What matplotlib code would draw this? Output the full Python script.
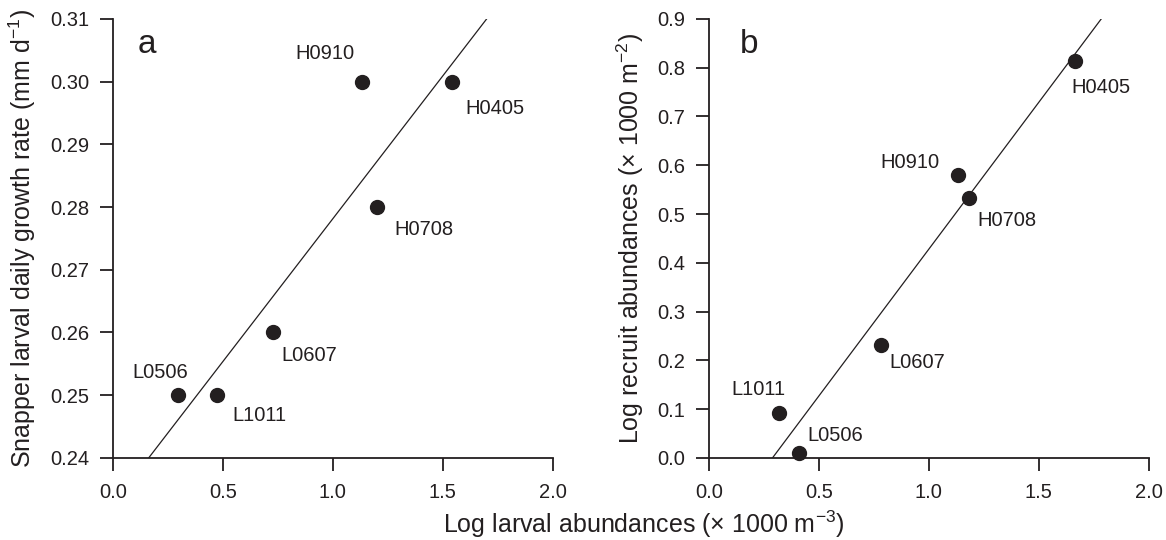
import matplotlib
matplotlib.use("Agg")
import matplotlib.pyplot as plt
import numpy as np

plt.rcParams['font.family'] = ['Liberation Sans', 'DejaVu Sans']
plt.rcParams['mathtext.fontset'] = 'custom'
plt.rcParams['mathtext.rm'] = 'Liberation Sans'
plt.rcParams['mathtext.default'] = 'regular'

INK = '#231f20'

# panel a: larval abundance vs daily growth rate
names_a = ["L0506", "L1011", "L0607", "H0910", "H0708", "H0405"]
x_a = [0.294, 0.471, 0.728, 1.132, 1.202, 1.541]
y_a = [0.250, 0.250, 0.260, 0.300, 0.280, 0.300]
# label offsets in pixels (dx, dy)
off_a = [(-17, 23), (43, -20), (36, -23), (-37, 28), (47, -22), (43, -27)]

# panel b: larval abundance vs recruit abundance
names_b = ["L1011", "L0506", "L0607", "H0910", "H0708", "H0405"]
x_b = [0.319, 0.412, 0.782, 1.133, 1.181, 1.664]
y_b = [0.092, 0.011, 0.232, 0.580, 0.532, 0.813]
off_b = [(-21, 24), (36, 17), (36, -18), (-48, 12), (38, -22), (26, -26)]

fig = plt.figure(figsize=(11.66, 5.4), dpi=100)
ax1 = fig.add_axes([0.0969, 0.152, 0.377, 0.813])
ax2 = fig.add_axes([0.608, 0.152, 0.377, 0.813])


def panel(ax, xs, ys, names, offs, ylim, yticks, yfmt, ylabel, ylab_x,
          letter, letter_x):
    k, b = np.polyfit(xs, ys, 1)
    xx = np.array([-0.5, 2.5])
    ax.plot(xx, k * xx + b, color=INK, lw=0.9)
    ax.plot(xs, ys, 'o', color=INK, ms=10, clip_on=False, zorder=3)
    for n, x, y, o in zip(names, xs, ys, offs):
        ax.annotate(n, (x, y), xytext=o, textcoords='offset pixels',
                    ha='center', va='center', fontsize=14.5, color=INK)
    ax.set_xlim(0, 2.0)
    ax.set_ylim(*ylim)
    ax.set_xticks([0.0, 0.5, 1.0, 1.5, 2.0])
    ax.set_xticklabels(["0.0", "0.5", "1.0", "1.5", "2.0"])
    ax.set_yticks(yticks)
    ax.set_yticklabels([yfmt % v for v in yticks])
    for s in ['top', 'right']:
        ax.spines[s].set_visible(False)
    for s in ['left', 'bottom']:
        ax.spines[s].set_linewidth(1.3)
        ax.spines[s].set_color(INK)
    ax.tick_params(direction='out', length=9.2, width=1.3, color=INK,
                   labelsize=14.5, labelcolor=INK)
    ax.tick_params(axis='x', pad=9)
    ax.tick_params(axis='y', pad=8)
    ax.text(ylab_x, 0.5, ylabel, transform=ax.transAxes, rotation=90,
            ha='center', va='center', fontsize=18, color=INK)
    ax.text(letter_x, 0.9226, letter, transform=ax.transAxes, fontsize=24,
            ha='left', va='baseline', color=INK)


panel(ax1, x_a, y_a, names_a, off_a, (0.24, 0.31),
      [0.24, 0.25, 0.26, 0.27, 0.28, 0.29, 0.30, 0.31], "%.2f",
      "Snapper larval daily growth rate (mm d$^{\u22121}$)", -0.207,
      "a", 0.057)
panel(ax2, x_b, y_b, names_b, off_b, (0.0, 0.9),
      [0.0, 0.1, 0.2, 0.3, 0.4, 0.5, 0.6, 0.7, 0.8, 0.9], "%.1f",
      "Log recruit abundances (\u00d7 1000 m$^{\u22122}$)", -0.180,
      "b", 0.070)

fig.text(0.552, 0.013, "Log larval abundances (\u00d7 1000 m$^{\u22123}$)",
         ha='center', va='baseline', fontsize=18, color=INK)

fig.savefig("out.png", dpi=100)
